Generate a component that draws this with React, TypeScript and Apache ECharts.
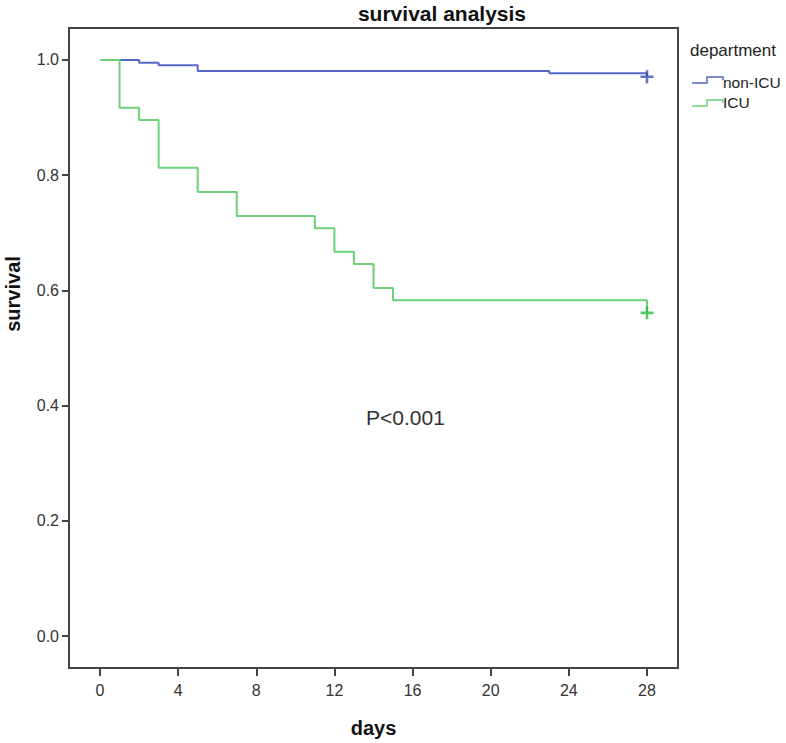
import React, { useEffect, useRef } from "react";
import * as echarts from "echarts";

// Kaplan-Meier estimates
const nonIcuDays = [0, 2, 3, 5, 23, 28];
const nonIcuSurv = [1.0, 0.995, 0.991, 0.981, 0.977, 0.971];
const icuDays = [0, 1, 2, 3, 5, 7, 11, 12, 13, 14, 15, 28];
const icuSurv = [1.0, 0.917, 0.896, 0.813, 0.771, 0.729, 0.708, 0.667, 0.646, 0.604, 0.583, 0.561];
const censorDay = 28;
const nonIcuCensor = 0.971;
const icuCensor = 0.561;

const groupNames = ["non-ICU", "ICU"];
const xTicks = [0, 4, 8, 12, 16, 20, 24, 28];
const yTicks = [0, 0.2, 0.4, 0.6, 0.8, 1.0];

const FONT = "'Liberation Sans', Arial, sans-serif";
const BLUE = "#5567c9";
const GREEN = "#6bd277";
const BLUE_DARK = "#3a4fb6";
const GREEN_DARK = "#2fb845";
const PLUS = "path://M4,0H6V4H10V6H6V10H4V6H0V4H4Z";

export default function App() {
  const ref = useRef<HTMLDivElement>(null);
  useEffect(() => {
    if (!ref.current) return;
    const chart = echarts.init(ref.current, null, { renderer: "svg" });
    const zip = (xs: number[], ys: number[]) => xs.map((x, i) => [x, ys[i]]);
    chart.setOption({
      animation: false,
      backgroundColor: "#ffffff",
      grid: {
        left: 69,
        right: 108,
        top: 28,
        bottom: 74,
        show: true,
        borderColor: "#444",
        borderWidth: 2,
        backgroundColor: "transparent",
      },
      xAxis: {
        type: "value",
        min: -1.587,
        max: 29.587,
        axisLine: { show: true, onZero: false, lineStyle: { color: "#444", width: 2 } },
        axisTick: {
          show: true,
          length: 8,
          customValues: xTicks,
          lineStyle: { color: "#444", width: 2 },
        },
        axisLabel: {
          margin: 14,
          color: "#333",
          fontSize: 16,
          fontFamily: FONT,
          customValues: xTicks,
        },
        splitLine: { show: false },
        name: "days",
        nameLocation: "middle",
        nameGap: 50,
        nameTextStyle: { fontSize: 20, fontWeight: "bold", color: "#111", fontFamily: FONT },
      },
      yAxis: {
        type: "value",
        min: -0.0555,
        max: 1.0555,
        axisLine: { show: true, onZero: false, lineStyle: { color: "#444", width: 2 } },
        axisTick: {
          show: true,
          length: 7,
          customValues: yTicks,
          lineStyle: { color: "#444", width: 2 },
        },
        axisLabel: {
          margin: 10,
          color: "#333",
          fontSize: 16,
          fontFamily: FONT,
          customValues: yTicks,
          formatter: (v: number) => v.toFixed(1),
        },
        splitLine: { show: false },
      },
      series: [
        {
          name: groupNames[0],
          type: "line",
          step: "end",
          data: zip(nonIcuDays, nonIcuSurv),
          showSymbol: false,
          lineStyle: { color: BLUE, width: 2 },
          z: 2,
        },
        {
          name: groupNames[1],
          type: "line",
          step: "end",
          data: zip(icuDays, icuSurv),
          showSymbol: false,
          lineStyle: { color: GREEN, width: 2 },
          z: 3,
        },
        {
          type: "scatter",
          data: [[censorDay, nonIcuCensor]],
          symbol: PLUS,
          symbolSize: 13,
          itemStyle: { color: BLUE_DARK },
          z: 4,
        },
        {
          type: "scatter",
          data: [[censorDay, icuCensor]],
          symbol: PLUS,
          symbolSize: 13,
          itemStyle: { color: GREEN_DARK },
          z: 4,
        },
      ],
      graphic: [
        {
          type: "text",
          x: 442,
          y: 13,
          style: {
            text: "survival analysis",
            align: "center",
            verticalAlign: "middle",
            fontSize: 21,
            fontWeight: "bold",
            fontFamily: FONT,
            fill: "#111",
          },
        },
        {
          type: "text",
          x: 13,
          y: 294,
          rotation: Math.PI / 2,
          style: {
            text: "survival",
            align: "center",
            verticalAlign: "middle",
            fontSize: 20,
            fontWeight: "bold",
            fontFamily: FONT,
            fill: "#111",
          },
        },
        {
          type: "text",
          x: 366,
          y: 417,
          style: {
            text: "P<0.001",
            align: "left",
            verticalAlign: "middle",
            fontSize: 21,
            fontFamily: FONT,
            fill: "#333",
          },
        },
        {
          type: "text",
          x: 690,
          y: 50,
          style: {
            text: "department",
            align: "left",
            verticalAlign: "middle",
            fontSize: 17,
            fontFamily: FONT,
            fill: "#222",
          },
        },
        {
          type: "polyline",
          shape: { points: [[692, 83], [707, 83], [707, 77], [723, 77], [723, 80]] },
          style: { stroke: BLUE, lineWidth: 1.5, fill: "none" },
        },
        {
          type: "text",
          x: 723,
          y: 82,
          style: {
            text: groupNames[0],
            align: "left",
            verticalAlign: "middle",
            fontSize: 15.5,
            fontFamily: FONT,
            fill: "#222",
          },
        },
        {
          type: "polyline",
          shape: { points: [[692, 106], [707, 106], [707, 100], [723, 100], [723, 103]] },
          style: { stroke: GREEN, lineWidth: 1.5, fill: "none" },
        },
        {
          type: "text",
          x: 723,
          y: 102,
          style: {
            text: groupNames[1],
            align: "left",
            verticalAlign: "middle",
            fontSize: 15.5,
            fontFamily: FONT,
            fill: "#222",
          },
        },
      ],
    });
    return () => chart.dispose();
  }, []);
  return (
    <div
      ref={ref}
      style={{ position: "fixed", left: 0, top: 0, width: 786, height: 743 }}
    />
  );
}
